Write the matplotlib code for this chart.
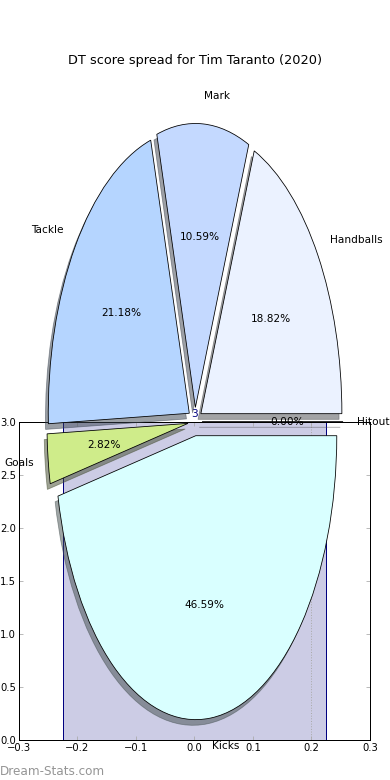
import matplotlib
matplotlib.use("Agg")
import matplotlib.pyplot as plt

# DT points per stat category (Tim Taranto, 2020)
labels = ['Handballs', 'Mark', 'Tackle', 'Goals', 'Kicks', 'Hitout']
points = [80, 45, 90, 12, 198, 0]
colors = ['#ebf2ff', '#c4d9ff', '#b5d5ff', '#cfec8a', '#d9ffff', '#e8e8e8']
explode = [0.05] * len(labels)

bar_x = [0]
bar_h = [3]

DPI = 72
fig = plt.figure(figsize=(390 / DPI, 780 / DPI), dpi=DPI)

# bar axes underneath
ax_bar = fig.add_axes([0.0487, 0.0513, 0.9, 0.4083])
bars = ax_bar.bar(bar_x, bar_h, width=0.45, facecolor=(0, 0, 0.5, 0.2),
                  edgecolor='navy', linewidth=1)
ax_bar.bar_label(bars, color='navy', fontsize=10.5, padding=3)
ax_bar.axvline(0.2, color='#aaaaaa', linestyle=':', linewidth=1)
ax_bar.set_xlim(-0.3, 0.3)
ax_bar.set_ylim(0, 3)
ax_bar.set_xticks([-0.3, -0.2, -0.1, 0.0, 0.1, 0.2, 0.3])
ax_bar.set_yticks([0.0, 0.5, 1.0, 1.5, 2.0, 2.5, 3.0])
ax_bar.tick_params(direction='in', length=4, color='#aaaaaa', labelsize=10,
                   top=True, right=True, pad=3)
for s in ax_bar.spines.values():
    s.set_color('black')
    s.set_linewidth(1)

# pie axes on top, stretched (no equal aspect)
ax_pie = fig.add_axes([0.048, 0.0045, 0.904, 0.91])
ax_pie.patch.set_visible(False)
ax_pie.pie(points, labels=labels, colors=colors, explode=explode,
           autopct='%1.2f%%', shadow=True,
           wedgeprops=dict(edgecolor='black', linewidth=0.8),
           textprops=dict(fontsize=10.5))
ax_pie.set_aspect('auto')
ax_pie.set_xlim(-1.25, 1.25)
ax_pie.set_ylim(-1.25, 1.25)
ax_pie.set_title('DT score spread for Tim Taranto (2020)', fontsize=12.9, pad=2)

fig.text(0.0, 5 / 780, 'Dream-Stats.com', color='#959595', fontsize=12,
         ha='left', va='baseline')

fig.savefig('out.png', dpi=DPI)
